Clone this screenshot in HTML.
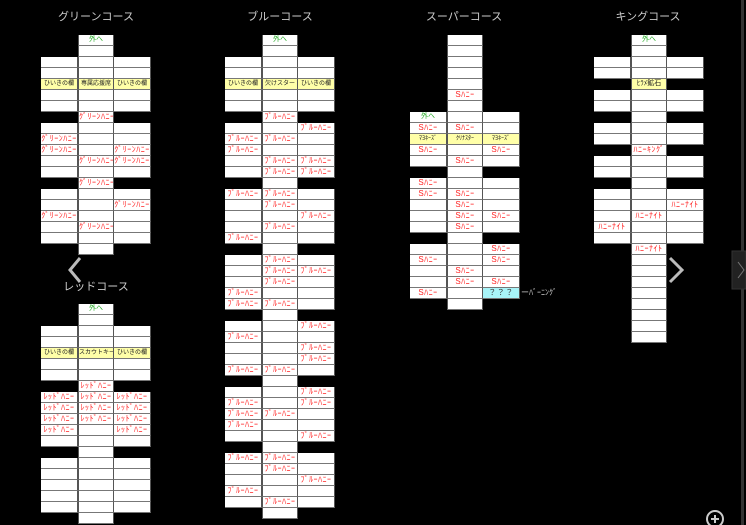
<!DOCTYPE html>
<html><head><meta charset="utf-8"><style>
body{margin:0;width:746px;height:525px;background:#000;overflow:hidden;position:relative;font-family:"Liberation Sans","Noto Sans CJK JP",sans-serif}
.t{position:absolute;top:8px;color:#ccc;font-size:11px;width:120px;text-align:center}
.c{position:absolute}
.r{display:flex;height:11px}
.r b{display:block;width:37px;height:11px;box-sizing:border-box;border-bottom:1px solid #777;border-right:1px solid #555;background:#fff;font-weight:normal;font-size:8px;letter-spacing:0.5px;color:#f22;text-align:center;line-height:10px;white-space:nowrap;overflow:hidden}
.r b:nth-child(2){width:36px;background-color:#fff;border-left:1px solid #555}
.r b.n{background:transparent;border:none}
.r b.y{background:#ffffa8;color:#222;font-size:6px;letter-spacing:0}
.r b.q{background:#a8f4f8;color:#333}
.r b.g{color:#2a2;font-size:7px;letter-spacing:0}
</style></head><body>
<div class="t" style="left:36px">グリーンコース</div>
<div class="t" style="left:220px">ブルーコース</div>
<div class="t" style="left:404px">スーパーコース</div>
<div class="t" style="left:588px">キングコース</div>
<div class="t" style="left:36px;top:278px">レッドコース</div>

<div class="c" style="left:41px;top:35px">
<div class="r"><b class="n"></b><b class="g">外へ</b><b class="n"></b></div>
<div class="r"><b class="n"></b><b></b><b class="n"></b></div>
<div class="r"><b></b><b></b><b></b></div>
<div class="r"><b></b><b></b><b></b></div>
<div class="r"><b class="y">ひいきの欄</b><b class="y">専属応援席</b><b class="y">ひいきの欄</b></div>
<div class="r"><b></b><b></b><b></b></div>
<div class="r"><b></b><b></b><b></b></div>
<div class="r"><b class="n"></b><b>ｸﾞﾘｰﾝﾊﾆｰ</b><b class="n"></b></div>
<div class="r"><b></b><b></b><b></b></div>
<div class="r"><b>ｸﾞﾘｰﾝﾊﾆｰ</b><b></b><b></b></div>
<div class="r"><b>ｸﾞﾘｰﾝﾊﾆｰ</b><b></b><b>ｸﾞﾘｰﾝﾊﾆｰ</b></div>
<div class="r"><b></b><b>ｸﾞﾘｰﾝﾊﾆｰ</b><b>ｸﾞﾘｰﾝﾊﾆｰ</b></div>
<div class="r"><b></b><b></b><b></b></div>
<div class="r"><b class="n"></b><b>ｸﾞﾘｰﾝﾊﾆｰ</b><b class="n"></b></div>
<div class="r"><b></b><b></b><b></b></div>
<div class="r"><b></b><b></b><b>ｸﾞﾘｰﾝﾊﾆｰ</b></div>
<div class="r"><b>ｸﾞﾘｰﾝﾊﾆｰ</b><b></b><b></b></div>
<div class="r"><b></b><b>ｸﾞﾘｰﾝﾊﾆｰ</b><b></b></div>
<div class="r"><b></b><b></b><b></b></div>
<div class="r"><b class="n"></b><b></b><b class="n"></b></div>
</div>

<div class="c" style="left:41px;top:304px">
<div class="r"><b class="n"></b><b class="g">外へ</b><b class="n"></b></div>
<div class="r"><b class="n"></b><b></b><b class="n"></b></div>
<div class="r"><b></b><b></b><b></b></div>
<div class="r"><b></b><b></b><b></b></div>
<div class="r"><b class="y">ひいきの欄</b><b class="y">スカウトキー</b><b class="y">ひいきの欄</b></div>
<div class="r"><b></b><b></b><b></b></div>
<div class="r"><b></b><b></b><b></b></div>
<div class="r"><b class="n"></b><b>ﾚｯﾄﾞﾊﾆｰ</b><b class="n"></b></div>
<div class="r"><b>ﾚｯﾄﾞﾊﾆｰ</b><b>ﾚｯﾄﾞﾊﾆｰ</b><b>ﾚｯﾄﾞﾊﾆｰ</b></div>
<div class="r"><b>ﾚｯﾄﾞﾊﾆｰ</b><b>ﾚｯﾄﾞﾊﾆｰ</b><b>ﾚｯﾄﾞﾊﾆｰ</b></div>
<div class="r"><b>ﾚｯﾄﾞﾊﾆｰ</b><b>ﾚｯﾄﾞﾊﾆｰ</b><b>ﾚｯﾄﾞﾊﾆｰ</b></div>
<div class="r"><b>ﾚｯﾄﾞﾊﾆｰ</b><b></b><b>ﾚｯﾄﾞﾊﾆｰ</b></div>
<div class="r"><b></b><b></b><b></b></div>
<div class="r"><b class="n"></b><b></b><b class="n"></b></div>
<div class="r"><b></b><b></b><b></b></div>
<div class="r"><b></b><b></b><b></b></div>
<div class="r"><b></b><b></b><b></b></div>
<div class="r"><b></b><b></b><b></b></div>
<div class="r"><b></b><b></b><b></b></div>
<div class="r"><b class="n"></b><b></b><b class="n"></b></div>
</div>

<div class="c" style="left:225px;top:35px">
<div class="r"><b class="n"></b><b class="g">外へ</b><b class="n"></b></div>
<div class="r"><b class="n"></b><b></b><b class="n"></b></div>
<div class="r"><b></b><b></b><b></b></div>
<div class="r"><b></b><b></b><b></b></div>
<div class="r"><b class="y">ひいきの欄</b><b class="y">欠けスター</b><b class="y">ひいきの欄</b></div>
<div class="r"><b></b><b></b><b></b></div>
<div class="r"><b></b><b></b><b></b></div>
<div class="r"><b class="n"></b><b>ﾌﾞﾙｰﾊﾆｰ</b><b class="n"></b></div>
<div class="r"><b></b><b></b><b>ﾌﾞﾙｰﾊﾆｰ</b></div>
<div class="r"><b>ﾌﾞﾙｰﾊﾆｰ</b><b>ﾌﾞﾙｰﾊﾆｰ</b><b></b></div>
<div class="r"><b>ﾌﾞﾙｰﾊﾆｰ</b><b></b><b></b></div>
<div class="r"><b></b><b>ﾌﾞﾙｰﾊﾆｰ</b><b>ﾌﾞﾙｰﾊﾆｰ</b></div>
<div class="r"><b></b><b>ﾌﾞﾙｰﾊﾆｰ</b><b>ﾌﾞﾙｰﾊﾆｰ</b></div>
<div class="r"><b class="n"></b><b></b><b class="n"></b></div>
<div class="r"><b>ﾌﾞﾙｰﾊﾆｰ</b><b>ﾌﾞﾙｰﾊﾆｰ</b><b></b></div>
<div class="r"><b></b><b>ﾌﾞﾙｰﾊﾆｰ</b><b></b></div>
<div class="r"><b></b><b></b><b>ﾌﾞﾙｰﾊﾆｰ</b></div>
<div class="r"><b></b><b>ﾌﾞﾙｰﾊﾆｰ</b><b></b></div>
<div class="r"><b>ﾌﾞﾙｰﾊﾆｰ</b><b></b><b></b></div>
<div class="r"><b class="n"></b><b></b><b class="n"></b></div>
<div class="r"><b></b><b>ﾌﾞﾙｰﾊﾆｰ</b><b></b></div>
<div class="r"><b></b><b>ﾌﾞﾙｰﾊﾆｰ</b><b>ﾌﾞﾙｰﾊﾆｰ</b></div>
<div class="r"><b></b><b>ﾌﾞﾙｰﾊﾆｰ</b><b></b></div>
<div class="r"><b>ﾌﾞﾙｰﾊﾆｰ</b><b></b><b></b></div>
<div class="r"><b>ﾌﾞﾙｰﾊﾆｰ</b><b>ﾌﾞﾙｰﾊﾆｰ</b><b></b></div>
<div class="r"><b class="n"></b><b></b><b class="n"></b></div>
<div class="r"><b></b><b></b><b>ﾌﾞﾙｰﾊﾆｰ</b></div>
<div class="r"><b>ﾌﾞﾙｰﾊﾆｰ</b><b></b><b></b></div>
<div class="r"><b></b><b></b><b>ﾌﾞﾙｰﾊﾆｰ</b></div>
<div class="r"><b></b><b></b><b>ﾌﾞﾙｰﾊﾆｰ</b></div>
<div class="r"><b>ﾌﾞﾙｰﾊﾆｰ</b><b>ﾌﾞﾙｰﾊﾆｰ</b><b></b></div>
<div class="r"><b class="n"></b><b></b><b class="n"></b></div>
<div class="r"><b></b><b></b><b>ﾌﾞﾙｰﾊﾆｰ</b></div>
<div class="r"><b>ﾌﾞﾙｰﾊﾆｰ</b><b></b><b>ﾌﾞﾙｰﾊﾆｰ</b></div>
<div class="r"><b>ﾌﾞﾙｰﾊﾆｰ</b><b>ﾌﾞﾙｰﾊﾆｰ</b><b></b></div>
<div class="r"><b>ﾌﾞﾙｰﾊﾆｰ</b><b></b><b></b></div>
<div class="r"><b></b><b></b><b>ﾌﾞﾙｰﾊﾆｰ</b></div>
<div class="r"><b class="n"></b><b></b><b class="n"></b></div>
<div class="r"><b>ﾌﾞﾙｰﾊﾆｰ</b><b>ﾌﾞﾙｰﾊﾆｰ</b><b></b></div>
<div class="r"><b></b><b>ﾌﾞﾙｰﾊﾆｰ</b><b></b></div>
<div class="r"><b></b><b></b><b>ﾌﾞﾙｰﾊﾆｰ</b></div>
<div class="r"><b>ﾌﾞﾙｰﾊﾆｰ</b><b></b><b></b></div>
<div class="r"><b></b><b>ﾌﾞﾙｰﾊﾆｰ</b><b></b></div>
<div class="r"><b class="n"></b><b></b><b class="n"></b></div>
</div>

<div class="c" style="left:410px;top:35px">
<div class="r"><b class="n"></b><b></b><b class="n"></b></div>
<div class="r"><b class="n"></b><b></b><b class="n"></b></div>
<div class="r"><b class="n"></b><b></b><b class="n"></b></div>
<div class="r"><b class="n"></b><b></b><b class="n"></b></div>
<div class="r"><b class="n"></b><b></b><b class="n"></b></div>
<div class="r"><b class="n"></b><b>Sﾊﾆｰ</b><b class="n"></b></div>
<div class="r"><b class="n"></b><b></b><b class="n"></b></div>
<div class="r"><b class="g">外へ</b><b></b><b></b></div>
<div class="r"><b>Sﾊﾆｰ</b><b>Sﾊﾆｰ</b><b></b></div>
<div class="r"><b class="y">ﾏﾖﾈｰｽﾞ</b><b class="y">ｸﾘﾅｽﾀｰ</b><b class="y">ﾏﾖﾈｰｽﾞ</b></div>
<div class="r"><b>Sﾊﾆｰ</b><b></b><b>Sﾊﾆｰ</b></div>
<div class="r"><b></b><b>Sﾊﾆｰ</b><b></b></div>
<div class="r"><b class="n"></b><b></b><b class="n"></b></div>
<div class="r"><b>Sﾊﾆｰ</b><b></b><b></b></div>
<div class="r"><b>Sﾊﾆｰ</b><b>Sﾊﾆｰ</b><b></b></div>
<div class="r"><b></b><b>Sﾊﾆｰ</b><b></b></div>
<div class="r"><b></b><b>Sﾊﾆｰ</b><b>Sﾊﾆｰ</b></div>
<div class="r"><b></b><b>Sﾊﾆｰ</b><b></b></div>
<div class="r"><b class="n"></b><b></b><b class="n"></b></div>
<div class="r"><b></b><b></b><b>Sﾊﾆｰ</b></div>
<div class="r"><b>Sﾊﾆｰ</b><b></b><b>Sﾊﾆｰ</b></div>
<div class="r"><b></b><b>Sﾊﾆｰ</b><b></b></div>
<div class="r"><b></b><b>Sﾊﾆｰ</b><b>Sﾊﾆｰ</b></div>
<div class="r"><b>Sﾊﾆｰ</b><b></b><b class="q">？？？</b></div>
<div class="r"><b class="n"></b><b></b><b class="n"></b></div>
</div>
<div style="position:absolute;left:521px;top:287px;color:#ccc;font-size:8px">ーﾊﾞｰﾆﾝｸﾞ</div>

<div class="c" style="left:594px;top:35px">
<div class="r"><b class="n"></b><b class="g">外へ</b><b class="n"></b></div>
<div class="r"><b class="n"></b><b></b><b class="n"></b></div>
<div class="r"><b></b><b></b><b></b></div>
<div class="r"><b></b><b></b><b></b></div>
<div class="r"><b class="n"></b><b class="y" style="font-size:7px">ﾋﾗﾒ鉱石</b><b class="n"></b></div>
<div class="r"><b></b><b></b><b></b></div>
<div class="r"><b></b><b></b><b></b></div>
<div class="r"><b class="n"></b><b></b><b class="n"></b></div>
<div class="r"><b></b><b></b><b></b></div>
<div class="r"><b></b><b></b><b></b></div>
<div class="r"><b class="n"></b><b>ﾊﾆｰｷﾝｸﾞ</b><b class="n"></b></div>
<div class="r"><b></b><b></b><b></b></div>
<div class="r"><b></b><b></b><b></b></div>
<div class="r"><b class="n"></b><b></b><b class="n"></b></div>
<div class="r"><b></b><b></b><b></b></div>
<div class="r"><b></b><b></b><b>ﾊﾆｰﾅｲﾄ</b></div>
<div class="r"><b></b><b>ﾊﾆｰﾅｲﾄ</b><b></b></div>
<div class="r"><b>ﾊﾆｰﾅｲﾄ</b><b></b><b></b></div>
<div class="r"><b></b><b></b><b></b></div>
<div class="r"><b class="n"></b><b>ﾊﾆｰﾅｲﾄ</b><b class="n"></b></div>
<div class="r"><b class="n"></b><b></b><b class="n"></b></div>
<div class="r"><b class="n"></b><b></b><b class="n"></b></div>
<div class="r"><b class="n"></b><b></b><b class="n"></b></div>
<div class="r"><b class="n"></b><b></b><b class="n"></b></div>
<div class="r"><b class="n"></b><b></b><b class="n"></b></div>
<div class="r"><b class="n"></b><b></b><b class="n"></b></div>
<div class="r"><b class="n"></b><b></b><b class="n"></b></div>
<div class="r"><b class="n"></b><b></b><b class="n"></b></div>
</div>

<svg style="position:absolute;left:0;top:0" width="746" height="525">
<polyline points="80,258 70,270 80,282" fill="none" stroke="#bbb" stroke-width="3"/>
<polyline points="670,258 682,270 670,282" fill="none" stroke="#bbb" stroke-width="3"/>
<rect x="741" y="0" width="3" height="525" fill="#333"/>
<rect x="732" y="251" width="14" height="38" fill="#222" stroke="#333"/>
<polyline points="738,262 744,270 738,278" fill="none" stroke="#777" stroke-width="1"/>
<circle cx="715" cy="519" r="8" fill="none" stroke="#ccc" stroke-width="2"/>
<line x1="711" y1="519" x2="719" y2="519" stroke="#ccc" stroke-width="2"/>
<line x1="715" y1="515" x2="715" y2="523" stroke="#ccc" stroke-width="2"/>
</svg>
</body></html>
